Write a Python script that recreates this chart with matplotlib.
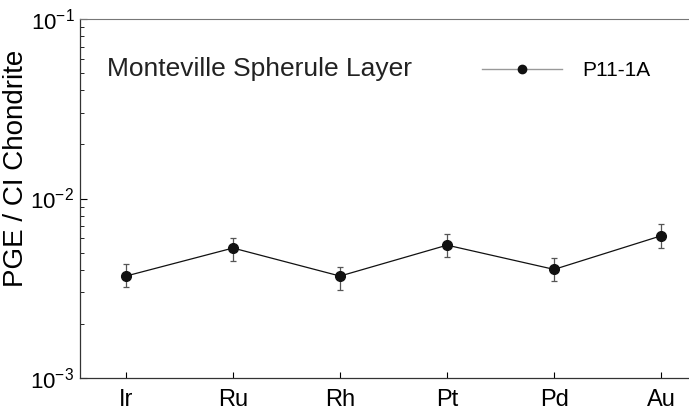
import numpy as np
import matplotlib.pyplot as plt
from matplotlib.lines import Line2D
from matplotlib.ticker import LogLocator, NullFormatter

ELEMENTS = ['Ir', 'Ru', 'Rh', 'Pt', 'Pd', 'Au']
VALUES = [0.0037, 0.0053, 0.0037, 0.0055, 0.00403, 0.0062]
ERR_HI = [0.0043, 0.00605, 0.00417, 0.00634, 0.00468, 0.00718]
ERR_LO = [0.0032, 0.00449, 0.00309, 0.0047, 0.00347, 0.00528]


def main():
    plt.rcParams['font.family'] = ['Liberation Sans', 'DejaVu Sans']
    fig = plt.figure(figsize=(6.89, 4.11), dpi=100)
    ax = fig.add_axes([0.116, 0.080, 0.884, 0.874])

    x = np.arange(1, len(ELEMENTS) + 1)
    vals = np.array(VALUES)
    yerr = [vals - np.array(ERR_LO), np.array(ERR_HI) - vals]
    ax.errorbar(x, vals, yerr=yerr, fmt='o-', color='#111111', ecolor='#555555',
                lw=0.9, elinewidth=0.9, capsize=2.5, capthick=0.9, ms=7)

    ax.set_yscale('log')
    ax.set_ylim(1e-3, 1e-1)
    ax.set_xlim(0.57, 6.26)
    ax.set_xticks(x)
    ax.set_xticklabels(ELEMENTS, fontsize=17)
    ax.yaxis.set_minor_locator(LogLocator(base=10, subs=np.arange(2, 10)))
    ax.yaxis.set_minor_formatter(NullFormatter())
    ax.tick_params(axis='y', which='major', direction='in', length=5, labelsize=16,
                   pad=4)
    ax.tick_params(axis='y', which='minor', direction='in', length=3)
    ax.tick_params(axis='x', direction='in', length=4, pad=8)
    ax.set_ylabel('PGE / CI Chondrite', fontsize=20)
    ax.yaxis.set_label_coords(-0.083, 0.585)

    ax.spines['right'].set_visible(False)
    ax.spines['top'].set_color('#777777')
    for s in ['left', 'bottom']:
        ax.spines[s].set_color('#333333')
        ax.spines[s].set_linewidth(0.9)

    ax.text(0.045, 0.84, 'Monteville Spherule Layer', transform=ax.transAxes,
            fontsize=19, color='#222222')
    handle = Line2D([], [], color='#999999', lw=1.0, marker='o', ms=6,
                    mfc='#111111', mec='#111111')
    ax.legend([handle], ['P11-1A'], loc='upper left', bbox_to_anchor=(0.63, 0.935),
              frameon=False, fontsize=15, handlelength=3.8, handletextpad=1.0)

    fig.savefig('out.png', dpi=100)


if __name__ == '__main__':
    main()
